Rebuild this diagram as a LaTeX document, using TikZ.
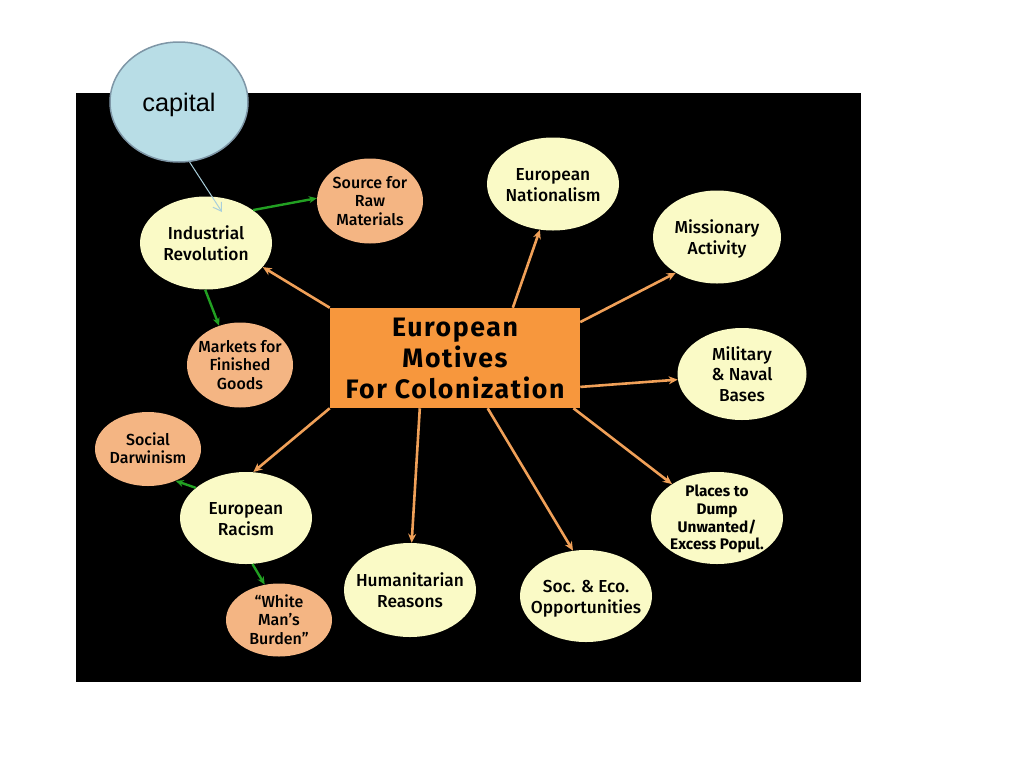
\documentclass[tikz,border=0pt]{standalone}
\usepackage{fontspec}
\setmainfont{Fira Sans}[UprightFont=* Medium, BoldFont=* Bold]
\newfontfamily\capfont{Liberation Sans}
\usetikzlibrary{arrows.meta,calc,shapes.geometric}
\newdimen\pxu \pxu=0.75pt
\newcommand\tx[1]{\smash{\makebox[0pt]{\raisebox{-0.38em}{\begin{tabular}{@{}c@{}}#1\end{tabular}}}}}
\definecolor{ylw}{HTML}{FAFAC6}
\definecolor{pch}{HTML}{F4B583}
\definecolor{boxor}{HTML}{F7973D}
\definecolor{orl}{HTML}{F0A058}
\definecolor{grl}{HTML}{22A022}
\definecolor{capfill}{HTML}{B8DDE6}
\definecolor{capdraw}{HTML}{7E96A6}
\definecolor{capline}{HTML}{A9CFDB}
\tikzset{
  ye/.style={ellipse, fill=ylw, inner sep=0pt, text=black,
    minimum width=132\pxu, minimum height=93\pxu, font=\fontsize{13}{15.5}\selectfont},
  pe/.style={ellipse, fill=pch, inner sep=0pt, text=black,
    minimum width=106\pxu, minimum height=85\pxu, font=\fontsize{12}{13.8}\selectfont},
  mainbox/.style={rectangle, fill=boxor, inner sep=0pt, text=black,
    minimum width=250\pxu, minimum height=100\pxu,
    font=\fontsize{20}{23.5}\selectfont\bfseries\addfontfeature{LetterSpace=6}},
  oar/.style={draw=orl, line width=1.95pt, -{Stealth[length=6.75pt,width=6pt]}},
  gar/.style={draw=grl, line width=1.8pt, -{Stealth[length=6pt,width=5.25pt]}},
  car/.style={draw=capline, line width=0.75pt, -{Straight Barb[length=6pt,width=7.5pt]}}
}
\begin{document}
\begin{tikzpicture}[x=0.75pt,y=-0.75pt]
\useasboundingbox (0,0) rectangle (1024,768);
\fill[white] (0,0) rectangle (1024,768);
\fill[black] (76,93) rectangle (861,682);

% central box
\node[mainbox] (box) at (455,358) {\tx{European\\Motives\\For Colonization}};

% outer ellipses
\node[ye] (ir)  at (206,243) {\tx{Industrial\\Revolution}};
\node[pe] (src) at (370,201) {\tx{Source for\\Raw\\Materials}};
\node[pe] (mk)  at (240,365) {\tx{Markets for\\Finished\\Goods}};
\node[ye] (nat) at (553,184) {\tx{European\\Nationalism}};
\node[ye, minimum width=128\pxu] (mis) at (717,237) {\tx{Missionary\\Activity}};
\node[ye, minimum width=129\pxu, minimum height=92\pxu] (mil) at (742,374) {\tx{Military\\\& Naval\\Bases}};
\node[ye, minimum height=92\pxu, font=\fontsize{11.5}{13.2}\selectfont\bfseries] (pl) at (717,518) {\tx{Places to\\Dump\\Unwanted/\\Excess Popul.}};
\node[ye, minimum height=92\pxu] (soc) at (586,596) {\tx{Soc. \& Eco.\\Opportunities}};
\node[ye, minimum height=94\pxu] (hum) at (410,590) {\tx{Humanitarian\\Reasons}};
\node[ye, minimum height=92\pxu] (rac) at (246,518) {\tx{European\\Racism}};
\node[pe, minimum height=74\pxu] (sd) at (148,449) {\tx{Social\\Darwinism}};
\node[pe, minimum height=73\pxu] (wmb) at (279,620) {\tx{“White\\Man’s\\Burden”}};

% capital
\node[ellipse, fill=capfill, draw=capdraw, line width=1.5\pxu, inner sep=0pt,
  minimum width=138\pxu, minimum height=120\pxu, font=\capfont\fontsize{19}{22}\selectfont]
  (cap) at (179,102) {\tx{capital}};
\coordinate (capTip) at ($(ir.center)+(16,-31)$);

% connectors
\draw[car] (cap.-80) -- (capTip);
\draw[gar] (ir.35) -- (src.177);
\draw[gar] (ir.269) -- (mk.118);
\draw[oar] (box.north west) -- (ir.-23);
\draw[oar] (box.41) -- (nat.254);
\draw[oar] (box.16) -- (mis.221);
\draw[oar] (box.-13) -- (mil.185);
\draw[oar] (box.-23) -- (pl.143);
\draw[oar] (box.-57) -- (soc.106);
\draw[oar] (box.235) -- (hum.88);
\draw[oar] (box.south west) -- (rac.81);
\draw[gar] (rac.149) -- (sd.-49);
\draw[gar] (rac.-82) -- (wmb.112);
\end{tikzpicture}
\end{document}
